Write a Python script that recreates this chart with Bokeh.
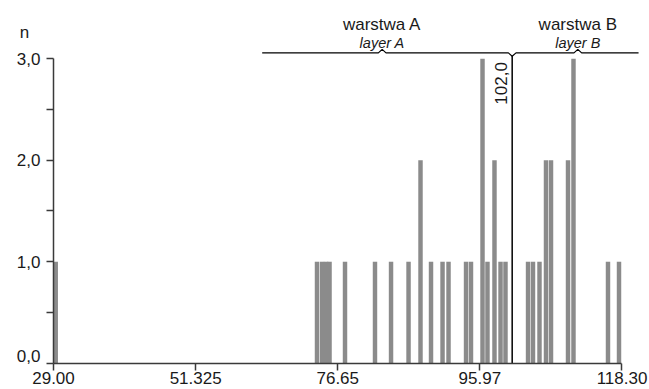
from bokeh.plotting import figure
from bokeh.models import Range1d, FixedTicker, Label
from bokeh.embed import file_html
from bokeh.resources import INLINE

# ---- data ----
bar_x = [29.35, 70.39, 71.18, 71.81, 72.36, 74.79, 79.50, 82.02, 84.77, 86.65,
         88.30, 90.11, 91.05, 93.80, 94.58, 96.39, 97.17, 98.27, 99.22, 100.00,
         103.54, 104.32, 105.34, 106.36, 107.15, 109.82, 110.68, 116.10, 117.83]
bar_n = [1, 1, 1, 1, 1, 1, 1, 1, 1, 2,
         1, 1, 1, 1, 1, 3, 1, 2, 1, 1,
         1, 1, 1, 2, 2, 2, 3, 1, 1]
x_ticks = [29.0, 51.325, 73.65, 95.975, 118.3]
x_tick_labels = ["29.00", "51.325", "76.65", "95.97", "118.30"]
y_ticks = [0, 0.5, 1, 1.5, 2, 2.5, 3]
y_tick_labels = ["0,0", "", "1,0", "", "2,0", "", "3,0"]
boundary = 101.05
boundary_label = "102,0"
layer_names = ["warstwa A", "warstwa B"]
layer_names_en = ["layer A", "layer B"]
layer_left = [61.78, 101.05]
layer_right = [101.05, 120.9]
layer_tip = [80.63, 111.36]

FONT = "Liberation Sans"
BAR = "#8b8b8b"
AX = "#3a3a3a"
TXT = "#1a1a1a"

p = figure(width=649, height=389, x_range=Range1d(20.675, 122.62), y_range=Range1d(-0.259, 3.574),
           output_backend="svg", toolbar_location=None,
           min_border_left=0, min_border_right=0, min_border_top=0, min_border_bottom=0)
p.outline_line_color = None
p.xgrid.visible = False
p.ygrid.visible = False
p.background_fill_color = "white"

p.vbar(x=bar_x, top=bar_n, width=0.7, fill_color=BAR, line_color=None)

# boundary line
p.segment(x0=[boundary], y0=[0], x1=[boundary], y1=[3.03], line_color="black", line_width=1.5)

# braces
ys = 3.058
for l, r, t in zip(layer_left, layer_right, layer_tip):
    xs = [l, t - 0.6, t, t + 0.6, r]
    yv = [ys, ys, ys + 0.035, ys, ys]
    if l == boundary:
        xs = [l, l + 0.6] + xs[1:]
        yv = [3.025, ys] + yv[1:]
    if r == boundary:
        xs = xs[:-1] + [r - 0.6, r]
        yv = yv[:-1] + [ys, 3.025]
    p.line(xs, yv, line_color="black", line_width=1.2)

for name, en, t in zip(layer_names, layer_names_en, layer_tip):
    p.add_layout(Label(x=t, y=3.34, text=name, text_align="center", text_baseline="middle",
                       text_font=FONT, text_font_size="17px", text_color=TXT))
    p.add_layout(Label(x=t, y=3.16, text=en, text_align="center", text_baseline="middle",
                       text_font=FONT, text_font_size="14.5px", text_font_style="italic",
                       text_color=TXT))

p.add_layout(Label(x=boundary - 1.8, y=2.757, text=boundary_label, angle=1.5708,
                   text_align="center", text_baseline="middle",
                   text_font=FONT, text_font_size="17px", text_color=TXT))

p.add_layout(Label(x=24.44, y=3.259, text="n", text_align="center", text_baseline="middle",
                   text_font=FONT, text_font_size="17px", text_color=TXT))

# "0,0" is drawn slightly raised (as in the original) to clear the x labels
p.add_layout(Label(x=x_ticks[0], x_offset=-13, y=y_ticks[0], y_offset=7, text=y_tick_labels[0],
                   text_align="right", text_baseline="middle",
                   text_font=FONT, text_font_size="17px", text_color=TXT))

# axes
p.xaxis.fixed_location = 0
p.xaxis.ticker = FixedTicker(ticks=x_ticks)
p.xaxis.major_label_overrides = {t: lab for t, lab in zip(x_ticks, x_tick_labels)}
p.xaxis.bounds = (x_ticks[0], x_ticks[-1])
p.xaxis.major_tick_out = 7
p.xaxis.major_tick_in = 0
p.xaxis.minor_tick_line_color = None
p.xaxis.major_label_standoff = 2
p.xaxis.major_label_text_font = FONT
p.xaxis.major_label_text_font_size = "17px"
p.xaxis.major_label_text_color = TXT
p.xaxis.axis_line_color = AX
p.xaxis.axis_line_width = 1.5
p.xaxis.major_tick_line_color = AX
p.xaxis.major_tick_line_width = 1.5

p.yaxis.fixed_location = 29.0
p.yaxis.ticker = FixedTicker(ticks=y_ticks)
y_over = {t: lab for t, lab in zip(y_ticks, y_tick_labels)}
y_over[y_ticks[0]] = ""
p.yaxis.major_label_overrides = y_over
p.yaxis.bounds = (0, 3)
p.yaxis.major_tick_out = 7
p.yaxis.major_tick_in = 0
p.yaxis.minor_tick_line_color = None
p.yaxis.major_label_standoff = 6
p.yaxis.major_label_text_font = FONT
p.yaxis.major_label_text_font_size = "17px"
p.yaxis.major_label_text_color = TXT
p.yaxis.axis_line_color = AX
p.yaxis.axis_line_width = 1.5
p.yaxis.major_tick_line_color = AX
p.yaxis.major_tick_line_width = 1.5

open("out.html", "w").write(file_html(p, INLINE))
